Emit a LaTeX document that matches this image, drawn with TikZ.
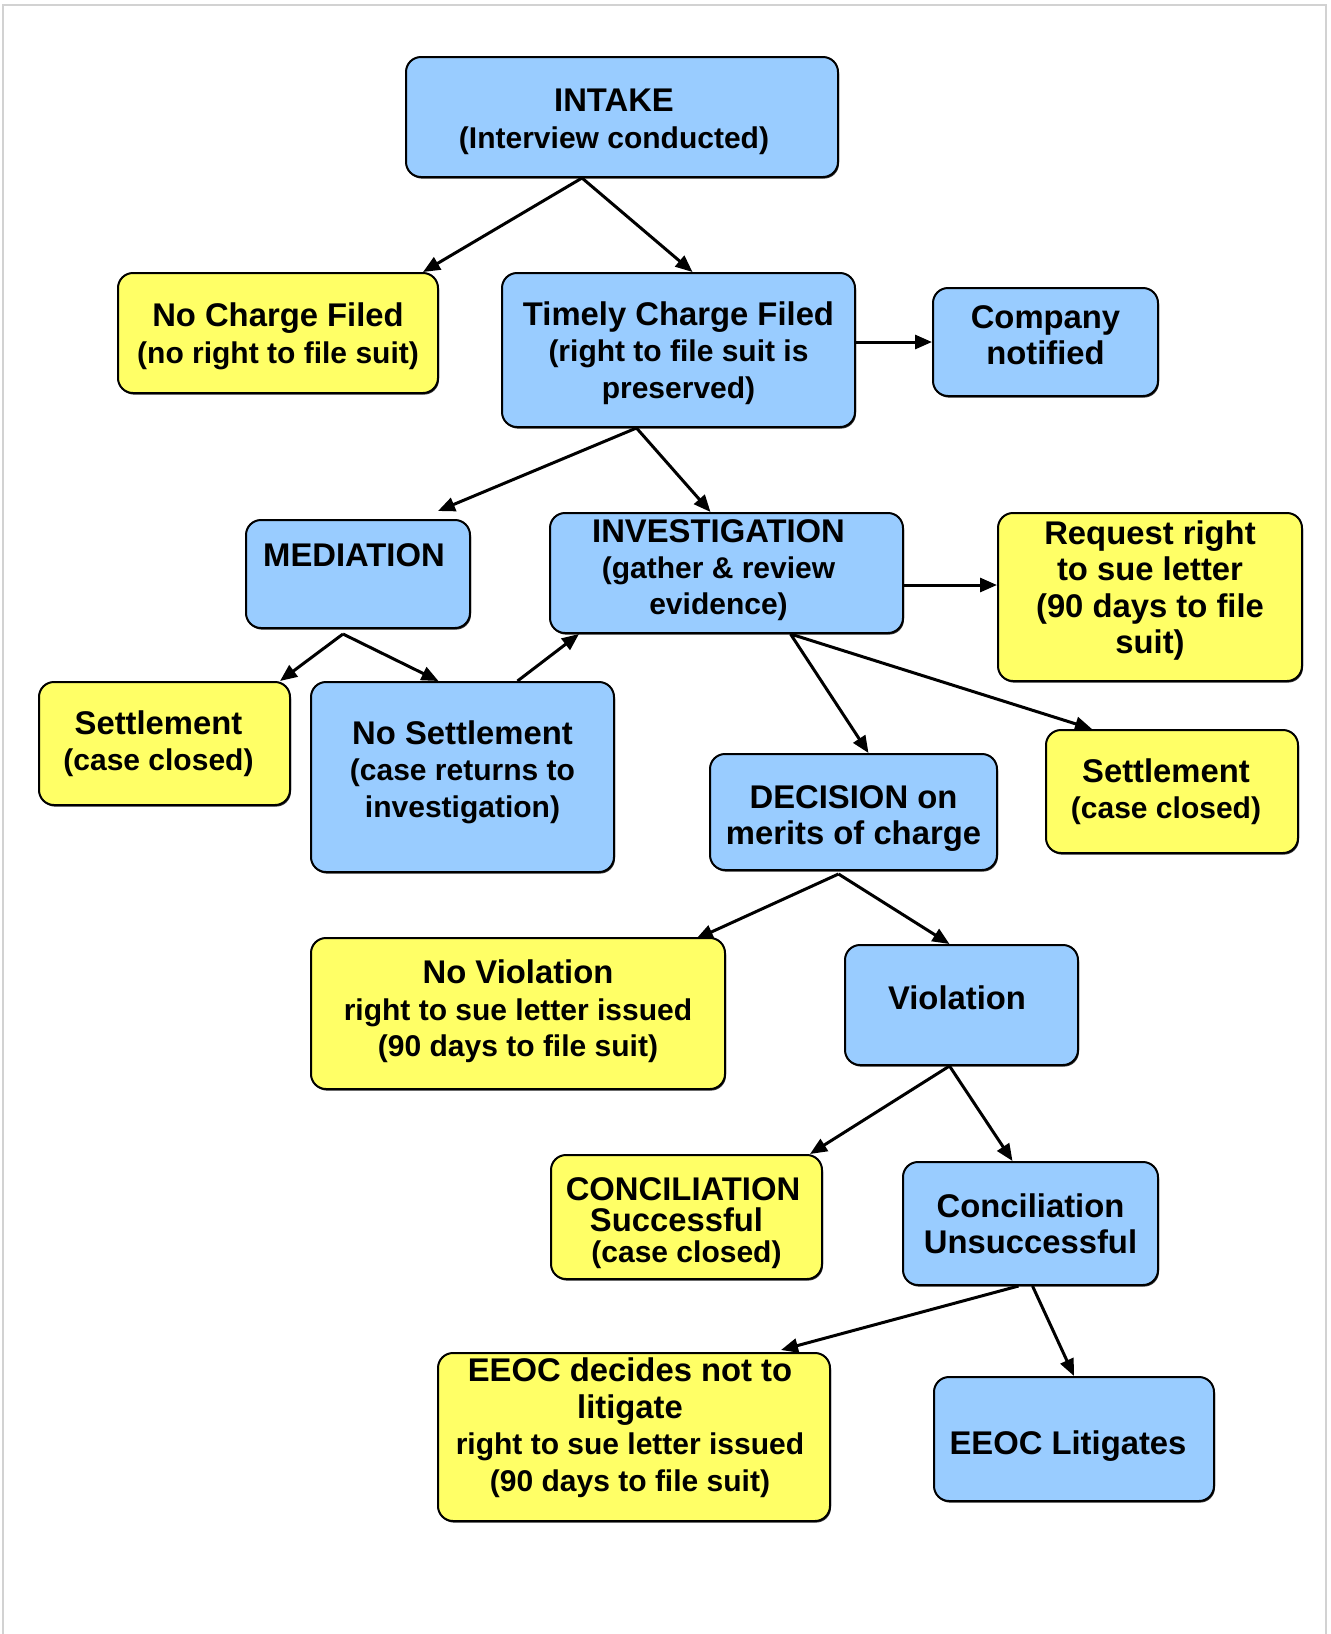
\documentclass[tikz,border=0pt]{standalone}
\usepackage{fontspec}
\setmainfont{Liberation Sans}
\usetikzlibrary{arrows.meta,calc,shadows}
\definecolor{boxblue}{HTML}{99CCFF}
\definecolor{boxyellow}{HTML}{FFFF66}
\newcommand\padlow[1]{\rule[-#1]{0pt}{#1}}
\newcommand\padtop[1]{\rule{0pt}{#1}}
\newcommand\subf{\fontsize{15pt}{17.5pt}\selectfont}

\begin{document}
\begin{tikzpicture}[x=0.5pt, y=-0.5pt,
  stage/.style={draw, line width=1pt, rounded corners=7.5pt, align=center, inner sep=2pt,
    font=\fontsize{16.4pt}{18.2pt}\selectfont\bfseries,
    drop shadow={shadow xshift=0.5pt, shadow yshift=-0.8pt, opacity=0.8, fill=black}},
  blu/.style={stage, fill=boxblue},
  yel/.style={stage, fill=boxyellow},
  arr/.style={-{Triangle[length=8.5pt, width=7pt]}, line width=1.5pt}]
  \useasboundingbox (0, 0) rectangle (1331, 1634);
  \draw[gray!35, line width=1pt] (3, 1640) -- (3, 5) -- (1326, 5) -- (1326, 1640);

  \node[blu, minimum width=216pt, minimum height=60pt] at (622, 117) (intake) {\padtop{16pt}INTAKE\hspace*{8pt}\\ \subf (Interview conducted)\hspace*{8pt}};
  \node[yel, minimum width=160pt, minimum height=60pt] at (278, 333) (nocharge) {\padtop{15pt}No Charge Filed\\ \subf (no right to file suit)};
  \node[blu, minimum width=176.5pt, minimum height=77pt] at (678.5, 350) (charge) {\padtop{15pt}Timely Charge Filed\\ \subf (right to file suit is\\ \subf preserved)};
  \node[blu, minimum width=112.5pt, minimum height=54pt] at (1045.5, 342) (company) {Company\\notified\padlow{7pt}};
  \node[blu, minimum width=112pt, minimum height=54pt] at (358, 574) (med) {MEDIATION\hspace*{4pt}\padlow{19pt}};
  \node[blu, minimum width=176.5pt, minimum height=60pt] at (726.5, 573) (inv) {INVESTIGATION\hspace*{8pt}\\ \subf\hspace*{-8pt}(gather \& review\\ \subf evidence)\hspace*{8pt}\padlow{6pt}};
  \node[yel, minimum width=152pt, minimum height=84pt] at (1150, 597) (rtsl) {Request right\\to sue letter\\(90 days to file\\suit)\padlow{10pt}};
  \node[yel, minimum width=125.5pt, minimum height=61.5pt] at (164.5, 743.5) (lset) {Settlement\hspace*{6pt}\\ \subf (case closed)\hspace*{6pt}};
  \node[blu, minimum width=151.5pt, minimum height=95pt] at (462.5, 777) (noset) {No Settlement\\ \subf (case returns to\\ \subf investigation)\padlow{8pt}};
  \node[blu, minimum width=143.5pt, minimum height=58pt] at (853.5, 812) (dec) {\padtop{18pt}DECISION on\\merits of charge};
  \node[yel, minimum width=126pt, minimum height=61.5pt] at (1172, 791.5) (rset) {Settlement\hspace*{6pt}\\ \subf (case closed)\hspace*{6pt}};
  \node[yel, minimum width=207pt, minimum height=75.5pt] at (518, 1013.5) (noviol) {No Violation\\ \subf right to sue letter issued\\ \subf (90 days to file suit)\padlow{5pt}};
  \node[blu, minimum width=116.5pt, minimum height=60pt] at (961.5, 1005) (viol) {Violation\hspace*{4.5pt}\padlow{7pt}};
  \node[yel, minimum width=135.5pt, minimum height=62pt] at (686.5, 1217) (concok) {\padtop{17.5pt}CONCILIATION\hspace*{3.5pt}\\[-2.5pt]\hspace*{-10pt}Successful\\[-2.5pt]\subf (case closed)};
  \node[blu, minimum width=127.5pt, minimum height=61.5pt] at (1030.5, 1223.5) (concno) {Conciliation\\Unsuccessful};
  \node[yel, minimum width=196pt, minimum height=84pt] at (634, 1437) (nolit) {EEOC decides not to\hspace*{4pt}\\ \hspace*{-4pt}litigate\\ \subf\hspace*{-4pt}right to sue letter issued\\ \subf (90 days to file suit)\hspace*{4pt}\padlow{12.5pt}};
  \node[blu, minimum width=140pt, minimum height=62pt] at (1074, 1439) (lit) {\padtop{19pt}EEOC Litigates\hspace*{6pt}};

  \draw[arr] ($(intake.south)+(-40,0)$) -- ($(nocharge.north east)+(-16,0)$);
  \draw[arr] ($(intake.south)+(-40,0)$) -- ($(charge.north)+(14,0)$);
  \draw[arr] (charge.east |- company.west) -- (company.west);
  \draw[arr] ($(charge.south)+(-42,0)$) -- ($(med.north)+(80,-8)$);
  \draw[arr] ($(charge.south)+(-42,0)$) -- ($(inv.north)+(-16,0)$);
  \draw[arr] ($(med.south)+(-15,5)$) -- ($(lset.north east)+(-11,0)$);
  \draw[arr] ($(med.south)+(-15,5)$) -- ($(noset.north)+(-24,0)$);
  \draw[arr] ($(noset.north)+(55,0)$) -- ($(inv.south west)+(30,0)$);
  \draw[arr] ($(inv.east)+(0,12)$) -- ($(rtsl.west)+(0,-12)$);
  \draw[arr] ($(inv.south)+(64,0)$) -- ($(dec.north)+(15,0)$);
  \draw[arr] ($(inv.south)+(64,0)$) -- ($(rset.north west)+(47,0)$);
  \draw[arr] ($(dec.south)+(-15,3)$) -- ($(noviol.north east)+(-30,2)$);
  \draw[arr] ($(dec.south)+(-15,3)$) -- ($(viol.north)+(-12,0)$);
  \draw[arr] ($(viol.south)+(-12,0)$) -- ($(concok.north east)+(-13,0)$);
  \draw[arr] ($(viol.south)+(-12,0)$) -- ($(concno.north)+(-18,0)$);
  \draw[arr] ($(concno.south)+(-12,0)$) -- ($(nolit.north east)+(-50,-2)$);
  \draw[arr] ($(concno.south)+(2,0)$) -- (lit.north);
\end{tikzpicture}
\end{document}
